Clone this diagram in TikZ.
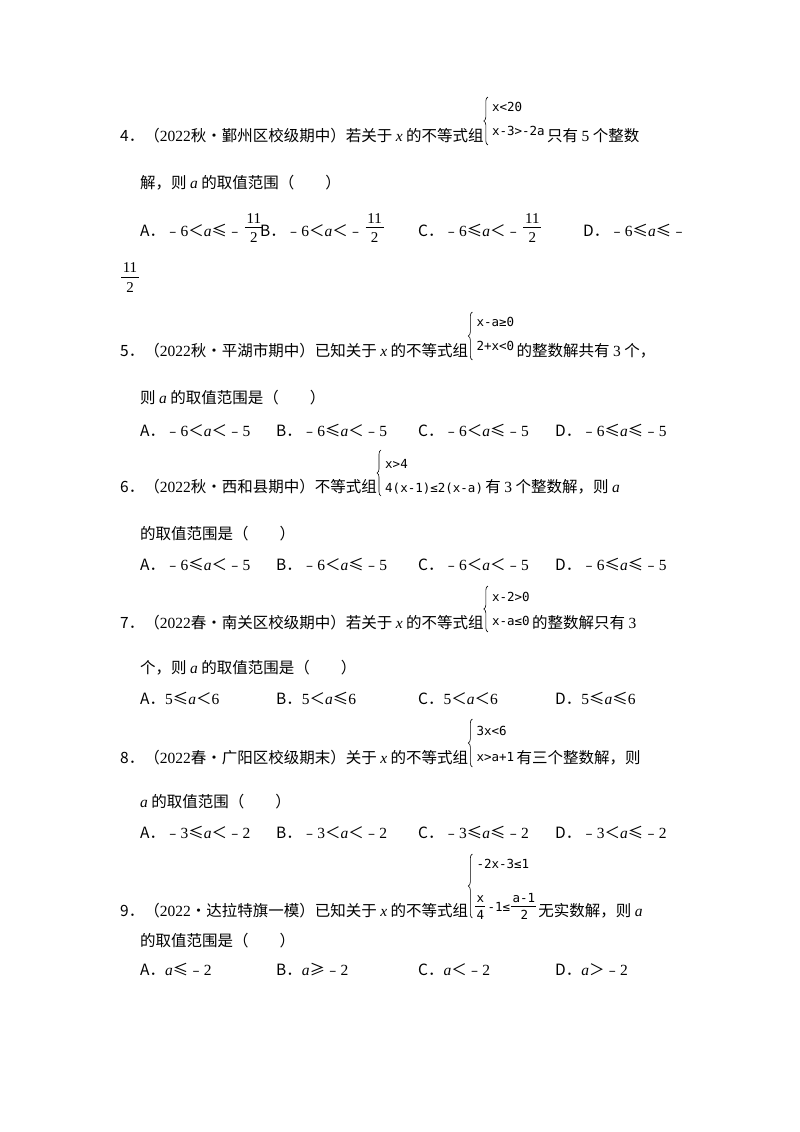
\documentclass[tikz,border=0pt]{standalone}
\usepackage{fontspec}
\setmainfont{Noto Sans CJK SC}
\newfontfamily\lat{Liberation Serif}
\newfontfamily\mono{DejaVu Sans Mono}
\usetikzlibrary{decorations.pathreplacing}
\newcommand\vi[1]{{\lat\itshape #1}}
\begin{document}
\begin{tikzpicture}[x=1pt,y=-1pt,
  t/.style={anchor=base west,inner sep=0pt,font=\fontsize{15.5}{17}\selectfont},
  s/.style={anchor=base west,inner sep=0pt,font=\mono\fontsize{12.5}{14}\selectfont},
  fn/.style={anchor=base,inner sep=0pt,font=\lat\fontsize{15}{16}\selectfont},
  br/.style={decorate,decoration={brace,amplitude=4pt},line width=0.6pt}]
\useasboundingbox (0,0) rectangle (800,1132);
% Q4
\node[t] (q4) at (120,141) {4．（{\lat 2022}秋•鄞州区校级期中）若关于 \vi{x} 的不等式组};
\draw[br] ([xshift=4pt,yshift=-4pt]q4.base east) -- ([xshift=4pt,yshift=44pt]q4.base east);
\node[s] (q4a) at ([xshift=8pt,yshift=30pt]q4.base east) {x<20};
\node[s] (q4b) at ([xshift=8pt,yshift=6pt]q4.base east) {x-3>-2a};
\node[t] (q4c) at ([xshift=2pt]q4b.base east |- q4.base) {只有 {\lat 5} 个整数};
\node[t] (q4d) at (140,188) {解，则 \vi{a} 的取值范围（　　）};
\node[t] (o4a) at (140,236) {A．﹣{\lat 6}＜\vi{a}≤﹣};
\node[fn] (f4an) at ([xshift=11pt,yshift=13pt]o4a.base east) {11};
\draw[line width=0.6pt] ([xshift=2pt,yshift=9pt]o4a.base east) -- ([xshift=20pt,yshift=9pt]o4a.base east);
\node[fn] (f4ad) at ([xshift=11pt,yshift=-6pt]o4a.base east) {2};
\node[t] (o4b) at (260,236) {B．﹣{\lat 6}＜\vi{a}＜﹣};
\node[fn] (f4bn) at ([xshift=11pt,yshift=13pt]o4b.base east) {11};
\draw[line width=0.6pt] ([xshift=2pt,yshift=9pt]o4b.base east) -- ([xshift=20pt,yshift=9pt]o4b.base east);
\node[fn] (f4bd) at ([xshift=11pt,yshift=-6pt]o4b.base east) {2};
\node[t] (o4c) at (418,236) {C．﹣{\lat 6}≤\vi{a}＜﹣};
\node[fn] (f4cn) at ([xshift=11pt,yshift=13pt]o4c.base east) {11};
\draw[line width=0.6pt] ([xshift=2pt,yshift=9pt]o4c.base east) -- ([xshift=20pt,yshift=9pt]o4c.base east);
\node[fn] (f4cd) at ([xshift=11pt,yshift=-6pt]o4c.base east) {2};
\node[t] (o4d) at (583,236) {D．﹣{\lat 6}≤\vi{a}≤﹣};
\node[fn] (f4dn) at (130,272) {11};
\draw[line width=0.6pt] (121,277) -- (139,277);
\node[fn] (f4dd) at (130,292) {2};
% Q5
\node[t] (q5) at (120,356) {5．（{\lat 2022}秋•平湖市期中）已知关于 \vi{x} 的不等式组};
\draw[br] ([xshift=4pt,yshift=-4pt]q5.base east) -- ([xshift=4pt,yshift=44pt]q5.base east);
\node[s] (q5a) at ([xshift=8pt,yshift=30pt]q5.base east) {x-a≥0};
\node[s] (q5b) at ([xshift=8pt,yshift=6pt]q5.base east) {2+x<0};
\node[t] (q5c) at ([xshift=2pt]q5b.base east |- q5.base) {的整数解共有 {\lat 3} 个，};
\node[t] (q5d) at (140,403) {则 \vi{a} 的取值范围是（　　）};
\node[t] (o5a) at (140,436) {A．﹣{\lat 6}＜\vi{a}＜﹣{\lat 5}};
\node[t] (o5b) at (276,436) {B．﹣{\lat 6}≤\vi{a}＜﹣{\lat 5}};
\node[t] (o5c) at (418,436) {C．﹣{\lat 6}＜\vi{a}≤﹣{\lat 5}};
\node[t] (o5d) at (555,436) {D．﹣{\lat 6}≤\vi{a}≤﹣{\lat 5}};
% Q6
\node[t] (q6) at (120,492) {6．（{\lat 2022}秋•西和县期中）不等式组};
\draw[br] ([xshift=4pt,yshift=-4pt]q6.base east) -- ([xshift=4pt,yshift=42pt]q6.base east);
\node[s] (q6a) at ([xshift=8pt,yshift=24pt]q6.base east) {x>4};
\node[s] (q6b) at ([xshift=8pt,yshift=0pt]q6.base east) {4(x-1)≤2(x-a)};
\node[t] (q6c) at ([xshift=2pt]q6b.base east |- q6.base) {有 {\lat 3} 个整数解，则 \vi{a}};
\node[t] (q6d) at (140,539) {的取值范围是（　　）};
\node[t] (o6a) at (140,570) {A．﹣{\lat 6}≤\vi{a}＜﹣{\lat 5}};
\node[t] (o6b) at (276,570) {B．﹣{\lat 6}＜\vi{a}≤﹣{\lat 5}};
\node[t] (o6c) at (418,570) {C．﹣{\lat 6}＜\vi{a}＜﹣{\lat 5}};
\node[t] (o6d) at (555,570) {D．﹣{\lat 6}≤\vi{a}≤﹣{\lat 5}};
% Q7
\node[t] (q7) at (120,628) {7．（{\lat 2022}春•南关区校级期中）若关于 \vi{x} 的不等式组};
\draw[br] ([xshift=4pt,yshift=-4pt]q7.base east) -- ([xshift=4pt,yshift=42pt]q7.base east);
\node[s] (q7a) at ([xshift=8pt,yshift=27pt]q7.base east) {x-2>0};
\node[s] (q7b) at ([xshift=8pt,yshift=3pt]q7.base east) {x-a≤0};
\node[t] (q7c) at ([xshift=2pt]q7b.base east |- q7.base) {的整数解只有 {\lat 3}};
\node[t] (q7d) at (140,673) {个，则 \vi{a} 的取值范围是（　　）};
\node[t] (o7a) at (140,704) {A．{\lat 5}≤\vi{a}＜{\lat 6}};
\node[t] (o7b) at (276,704) {B．{\lat 5}＜\vi{a}≤{\lat 6}};
\node[t] (o7c) at (418,704) {C．{\lat 5}＜\vi{a}＜{\lat 6}};
\node[t] (o7d) at (555,704) {D．{\lat 5}≤\vi{a}≤{\lat 6}};
% Q8
\node[t] (q8) at (120,763) {8．（{\lat 2022}春•广阳区校级期末）关于 \vi{x} 的不等式组};
\draw[br] ([xshift=4pt,yshift=-4pt]q8.base east) -- ([xshift=4pt,yshift=44pt]q8.base east);
\node[s] (q8a) at ([xshift=8pt,yshift=28pt]q8.base east) {3x<6};
\node[s] (q8b) at ([xshift=8pt,yshift=2pt]q8.base east) {x>a+1};
\node[t] (q8c) at ([xshift=2pt]q8b.base east |- q8.base) {有三个整数解，则};
\node[t] (q8d) at (140,807) {\vi{a} 的取值范围（　　）};
\node[t] (o8a) at (140,838) {A．﹣{\lat 3}≤\vi{a}＜﹣{\lat 2}};
\node[t] (o8b) at (276,838) {B．﹣{\lat 3}＜\vi{a}＜﹣{\lat 2}};
\node[t] (o8c) at (418,838) {C．﹣{\lat 3}≤\vi{a}≤﹣{\lat 2}};
\node[t] (o8d) at (555,838) {D．﹣{\lat 3}＜\vi{a}≤﹣{\lat 2}};
% Q9
\node[t] (q9) at (120,916) {9．（{\lat 2022}•达拉特旗一模）已知关于 \vi{x} 的不等式组};
\draw[br] ([xshift=4pt,yshift=-2pt]q9.base east) -- ([xshift=4pt,yshift=62pt]q9.base east);
\node[s] (q9a) at ([xshift=8pt,yshift=48pt]q9.base east) {-2x-3≤1};
\node[s] (q9x) at ([xshift=8pt,yshift=14pt]q9.base east) {x};
\node[s] (q9y) at ([xshift=8pt,yshift=-3pt]q9.base east) {4};
\draw ([xshift=7pt,yshift=10pt]q9.base east) -- ([xshift=17pt,yshift=10pt]q9.base east);
\node[s] (q9b) at ([xshift=19pt,yshift=5pt]q9.base east) {-1≤};
\node[s] (q9n) at ([xshift=2pt,yshift=9pt]q9b.base east) {a-1};
\draw ([xshift=1pt,yshift=5pt]q9b.base east) -- ([xshift=26pt,yshift=5pt]q9b.base east);
\node[s] (q9m) at ([xshift=10pt,yshift=-8pt]q9b.base east) {2};
\node[t] (q9c) at ([xshift=3pt]q9n.base east |- q9.base) {无实数解，则 \vi{a}};
\node[t] (q9d) at (140,946) {的取值范围是（　　）};
\node[t] (o9a) at (140,975) {A．\vi{a}≤﹣{\lat 2}};
\node[t] (o9b) at (276,975) {B．\vi{a}≥﹣{\lat 2}};
\node[t] (o9c) at (418,975) {C．\vi{a}＜﹣{\lat 2}};
\node[t] (o9d) at (555,975) {D．\vi{a}＞﹣{\lat 2}};
\end{tikzpicture}
\end{document}
